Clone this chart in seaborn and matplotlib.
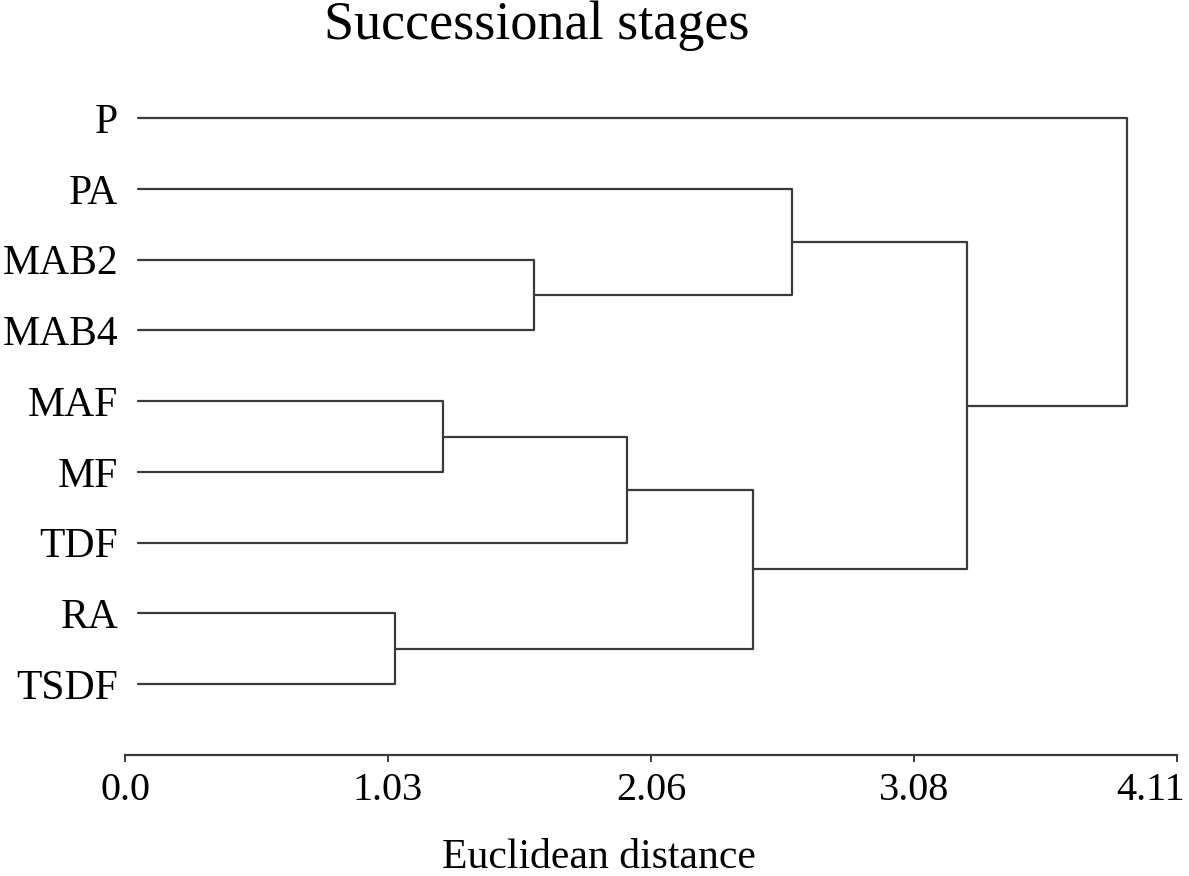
import numpy as np
import pandas as pd
import matplotlib
matplotlib.use("Agg")
import matplotlib.pyplot as plt
import matplotlib.transforms as mtransforms
import seaborn as sns

# ---- data ----
leaves = ["P", "PA", "MAB2", "MAB4", "MAF", "MF", "TDF", "RA", "TSDF"]
# merges: cluster ids (0..8 leaves, 9.. new clusters in order)
merge_left = [7, 4, 2, 10, 12, 1, 14, 0]
merge_right = [8, 5, 3, 6, 9, 11, 13, 15]
merge_height = [1.055, 1.243, 1.598, 1.962, 2.452, 2.604, 3.290, 3.913]
tick_values = [0.0, 1.0275, 2.055, 3.0825, 4.11]
tick_labels = ["0.0", "1.03", "2.06", "3.08", "4.11"]
title = "Successional stages"
xlabel = "Euclidean distance"

LEAF_START = 0.05
LINE_COLOR = "#3a3a3a"

sns.set_theme(style="white")
plt.rcParams["font.family"] = ["Liberation Serif", "DejaVu Serif"]

n = len(leaves)
pos = {i: (n - i, LEAF_START) for i in range(n)}  # id -> (y, height)
rows = []
for k, (a, b, h) in enumerate(zip(merge_left, merge_right, merge_height)):
    ya, ha = pos[a]
    yb, hb = pos[b]
    for (xx, yy) in [(ha, ya), (h, ya), (h, yb), (hb, yb)]:
        rows.append({"x": xx, "y": yy, "seg": k})
    pos[n + k] = ((ya + yb) / 2.0, h)
df = pd.DataFrame(rows)

fig = plt.figure(figsize=(11.89, 8.76), dpi=100)
ax = fig.add_axes([125 / 1189, 1 - 755 / 876, 1052 / 1189, (755 - 61.4) / 876])
sns.lineplot(data=df, x="x", y="y", units="seg", estimator=None, sort=False,
             color=LINE_COLOR, linewidth=1.6, ax=ax, legend=False)

ax.set_xlim(0, 4.11)
ax.set_ylim(0, n + 0.8)
ax.set_xticks(tick_values)
ax.set_xticklabels(tick_labels, fontsize=29, color="black")
ax.set_yticks([n - i for i in range(n)])
ax.set_yticklabels(leaves, fontsize=30, color="black")
ax.tick_params(axis="x", direction="out", length=5, width=1.4, color=LINE_COLOR,
               pad=7, bottom=True)
ax.tick_params(axis="y", length=0, pad=5, left=False)
# last tick label kept inside the figure, as in the reference
last = ax.get_xticklabels()[-1]
last.set_transform(last.get_transform() +
                   mtransforms.ScaledTranslation(-26 / 100, 0, fig.dpi_scale_trans))
for s in ["top", "right", "left"]:
    ax.spines[s].set_visible(False)
ax.spines["bottom"].set_color(LINE_COLOR)
ax.spines["bottom"].set_linewidth(1.6)
ax.set_ylabel("")
ax.set_xlabel(xlabel, fontsize=30, color="black")
ax.xaxis.set_label_coords((599 - 125) / 1052, -0.12)

fig.text(537 / 1189, 1 - 39 / 876, title, ha="center", va="baseline",
         fontsize=39, color="black")

fig.savefig("out.png", dpi=100, facecolor="white")
